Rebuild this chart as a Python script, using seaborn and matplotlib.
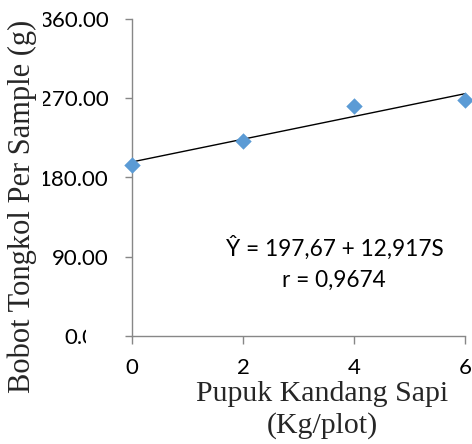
import matplotlib
matplotlib.use("Agg")
import matplotlib.pyplot as plt
from matplotlib.patches import Rectangle
import seaborn as sns
import pandas as pd

# ---- data ----
dosis = [0, 2, 4, 6]                       # Pupuk Kandang Sapi (Kg/plot)
bobot = [194.5, 222.0, 261.5, 267.5]       # Bobot Tongkol Per Sample (g)
intercept = 197.67
slope = 12.917
y_ticks = [0, 90, 180, 270, 360]
y_ticklabels = ["0.00", "90.00", "180.00", "270.00", "360.00"]
x_ticks = [0, 2, 4, 6]
equation_text = "Ŷ = 197,67 + 12,917S"
r_text = "r = 0,9674"

df = pd.DataFrame({"x": dosis, "y": bobot})
fit = pd.DataFrame({"x": [min(dosis), max(dosis)]})
fit["y"] = intercept + slope * fit["x"]

sns.set_theme(style="white")
plt.rcParams["font.family"] = ["Lato", "DejaVu Sans"]

W, H = 472, 444
fig = plt.figure(figsize=(W / 100, H / 100), dpi=100)
ax = fig.add_axes([132 / W, 1 - 336 / H, (465 - 132) / W, (336 - 19) / H])

sns.lineplot(data=fit, x="x", y="y", ax=ax, color="black", linewidth=1.0, zorder=2)
sns.scatterplot(data=df, x="x", y="y", ax=ax, marker="D", s=70, color="#5B9BD5",
                linewidth=0, zorder=3, clip_on=False)

ax.set_xlim(0, 6)
ax.set_ylim(0, 360)
ax.set_xticks(x_ticks)
ax.set_xticklabels([str(v) for v in x_ticks])
ax.set_yticks(y_ticks)
ax.set_yticklabels(y_ticklabels)
ax.set_xlabel("")
ax.set_ylabel("")

for s in ["top", "right"]:
    ax.spines[s].set_visible(False)
for s in ["left", "bottom"]:
    ax.spines[s].set_color("#878787")
    ax.spines[s].set_linewidth(1.0)

ax.tick_params(axis="both", which="both", direction="out", color="#878787",
               width=1.0, labelsize=16, labelcolor="black")
ax.tick_params(axis="y", length=5, pad=12, left=True)
ax.tick_params(axis="x", length=6, pad=10, bottom=True)

# regression annotation (centred around x≈335 px)
ax.text(0.61, 1 - (248 - 19) / (336 - 19), equation_text, transform=ax.transAxes,
        ha="center", va="center", fontsize=16.3, color="black")
ax.text(0.606, 1 - (280 - 19) / (336 - 19), r_text, transform=ax.transAxes,
        ha="center", va="center", fontsize=16.3, color="black")

# white masks mimicking the clipped tick labels of the original
fig.add_artist(Rectangle((0, 0), 43 / W, 1, transform=fig.transFigure,
                         facecolor="white", edgecolor="none", zorder=5))
fig.add_artist(Rectangle((86 / W, 1 - 352 / H), 36 / W, 32 / H, transform=fig.transFigure,
                         facecolor="white", edgecolor="none", zorder=5))

serif = ["Liberation Serif", "DejaVu Serif"]
fig.text(22 / W, 1 - 206 / H, "Bobot Tongkol Per Sample (g)", rotation=90,
         ha="center", va="center", fontsize=22, family=serif, zorder=6)
fig.text(322 / W, 1 - 410 / H, "Pupuk Kandang Sapi\n(Kg/plot)", ha="center",
         va="center", fontsize=21.5, family=serif, linespacing=1.25, zorder=6)

fig.savefig("out.png", dpi=100, facecolor="white")
